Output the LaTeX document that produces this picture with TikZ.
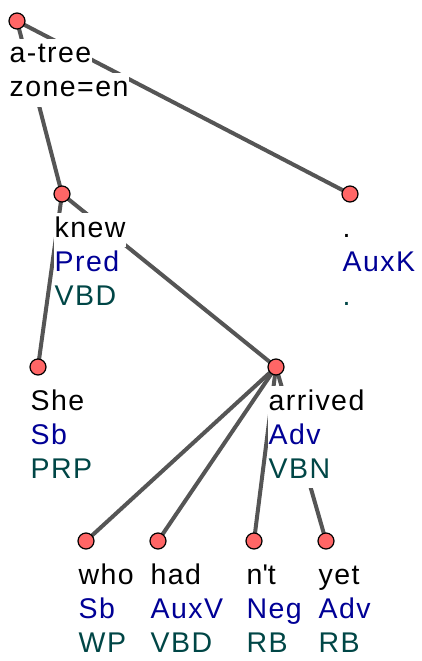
\documentclass[tikz,border=0pt]{standalone}
\usepackage{fontspec}
\setmainfont{Liberation Sans}[LetterSpace=5]
\usetikzlibrary{positioning,backgrounds}
\definecolor{nodered}{RGB}{255,102,102}
\definecolor{funcblue}{RGB}{0,0,150}
\definecolor{tagteal}{RGB}{0,70,70}
\definecolor{edgegray}{RGB}{85,85,85}
\newcommand{\wbox}[2]{{\fboxsep=0.5pt\colorbox{white}{\color{#1}\strut #2}}}
\newcommand{\wordlbl}[3]{\begin{tabular}[t]{@{}l@{}}\wbox{black}{#1}\\\wbox{funcblue}{#2}\\\wbox{tagteal}{#3}\end{tabular}}
\newcommand{\rootlbl}[2]{\begin{tabular}[t]{@{}l@{}}\wbox{black}{#1}\\\wbox{black}{#2}\end{tabular}}

\begin{document}
\begin{tikzpicture}[x=1pt,y=-1pt]
        \tikzstyle{tnode}
	  =[circle, draw=black, line width=1.2pt, fill=nodered,
	  minimum size=16pt, inner sep=0pt]
        \tikzstyle{lbl}
	  =[anchor=base west, inner sep=0pt,
	  font={\fontsize{28.5}{33}\selectfont}]
        \tikzstyle{edge}
	  =[draw=edgegray, line width=4pt]

	\useasboundingbox (0,0) rectangle (421,661);

	\node[tnode] (root) at (17,21) {};
	\node[tnode] (knew) at (62,194) {};
	\node[tnode] (dot) at (350,194) {};
	\node[tnode] (she) at (38,367) {};
	\node[tnode] (arrived) at (276,367) {};
	\node[tnode] (who) at (86,541) {};
	\node[tnode] (had) at (158,541) {};
	\node[tnode] (nt) at (254,541) {};
	\node[tnode] (yet) at (326,541) {};

	\begin{pgfonlayer}{background}
	\draw[edge] (root.center) -- (knew.center);
	\draw[edge] (root.center) -- (dot.center);
	\draw[edge] (knew.center) -- (she.center);
	\draw[edge] (knew.center) -- (arrived.center);
	\draw[edge] (arrived.center) -- (who.center);
	\draw[edge] (arrived.center) -- (had.center);
	\draw[edge] (arrived.center) -- (nt.center);
	\draw[edge] (arrived.center) -- (yet.center);
	\end{pgfonlayer}

	\node[lbl] (rootL)
	  at ([xshift=-8pt,yshift=-42pt]root.center) {\rootlbl{a-tree}{zone=en}};
	\node[lbl] (knewL)
	  at ([xshift=-8pt,yshift=-43pt]knew.center) {\wordlbl{knew}{Pred}{VBD}};
	\node[lbl] (dotL)
	  at ([xshift=-8pt,yshift=-43pt]dot.center) {\wordlbl{.}{AuxK}{.}};
	\node[lbl] (sheL)
	  at ([xshift=-8pt,yshift=-43pt]she.center) {\wordlbl{She}{Sb}{PRP}};
	\node[lbl] (arrivedL)
	  at ([xshift=-8pt,yshift=-43pt]arrived.center) {\wordlbl{arrived}{Adv}{VBN}};
	\node[lbl] (whoL)
	  at ([xshift=-8pt,yshift=-43pt]who.center) {\wordlbl{who}{Sb}{WP}};
	\node[lbl] (hadL)
	  at ([xshift=-8pt,yshift=-43pt]had.center) {\wordlbl{had}{AuxV}{VBD}};
	\node[lbl] (ntL)
	  at ([xshift=-8pt,yshift=-43pt]nt.center) {\wordlbl{n\textquotesingle t}{Neg}{RB}};
	\node[lbl] (yetL)
	  at ([xshift=-8pt,yshift=-43pt]yet.center) {\wordlbl{yet}{Adv}{RB}};
    \end{tikzpicture}
\end{document}
